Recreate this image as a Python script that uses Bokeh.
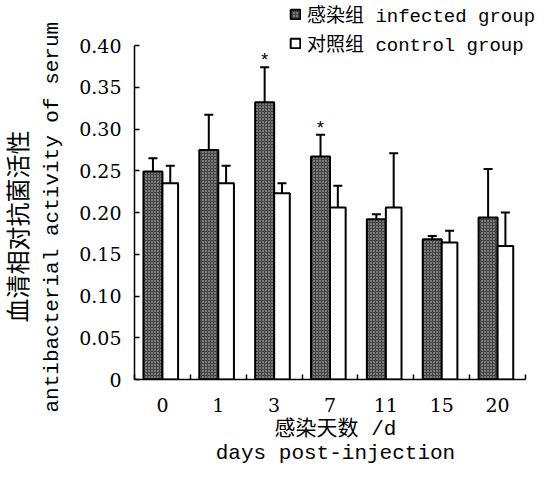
import numpy as np
from bokeh.plotting import figure
from bokeh.models import (Range1d, FixedTicker, Whisker, TeeHead, ColumnDataSource,
                          Legend, LegendItem, Title)
from bokeh.core.properties import value
from bokeh.embed import file_html
from bokeh.resources import INLINE

# ---- data ----
days = ["0", "1", "3", "7", "11", "15", "20"]
infected = [0.249, 0.275, 0.332, 0.267, 0.192, 0.168, 0.194]
infected_err = [0.016, 0.042, 0.042, 0.026, 0.006, 0.004, 0.058]
control = [0.235, 0.235, 0.223, 0.206, 0.206, 0.164, 0.160]
control_err = [0.021, 0.021, 0.012, 0.026, 0.065, 0.014, 0.040]
significant_days = ["3", "7"]
y_ticks = [0, 0.05, 0.10, 0.15, 0.20, 0.25, 0.30, 0.35, 0.40]
y_tick_labels = ["0", "0.05", "0.10", "0.15", "0.20", "0.25", "0.30", "0.35", "0.40"]
series_labels = ["感染组 infected group", "对照组 control group"]
x_title = "感染天数 /d\ndays post-injection"
y_title_cn = "血清相对抗菌活性"
y_title_en = "antibacterial activity of serum"

MONO = "Liberation Mono, Noto Sans CJK SC"

idx = np.arange(len(days))
inf_w, ctl_w = 0.34, 0.28
inf_x = idx - inf_w / 2
ctl_x = idx + ctl_w / 2

src_inf = ColumnDataSource(dict(x=inf_x, top=infected,
                                hi=np.array(infected) + np.array(infected_err)))
src_ctl = ColumnDataSource(dict(x=ctl_x, top=control,
                                hi=np.array(control) + np.array(control_err)))

W, H = 548, 475
AX_LEFT, AX_RIGHT = 133, 525         # pixel columns of the x-axis ends
AX_TOP, AX_BOTTOM = 45, 379          # pixel rows of 0.40 and 0
FRAME_RIGHT = 536                    # frame widened so the legend text fits
x_lo, x_hi = -0.5, len(days) - 0.5
y_max = y_ticks[-1]
# the frame is stretched to the top edge so the legend fits inside it
y_end = y_max * AX_BOTTOM / (AX_BOTTOM - AX_TOP)
x_end = x_hi + (FRAME_RIGHT - AX_RIGHT) * (x_hi - x_lo) / (AX_RIGHT - AX_LEFT)

p = figure(width=W, height=H, output_backend="svg", toolbar_location=None,
           x_range=Range1d(x_lo, x_end), y_range=Range1d(0, y_end),
           min_border_left=AX_LEFT, min_border_right=W - FRAME_RIGHT,
           min_border_top=0, min_border_bottom=H - AX_BOTTOM)
p.outline_line_color = None
p.xgrid.visible = False
p.ygrid.visible = False
p.background_fill_color = "white"
p.border_fill_color = "white"

r_inf = p.vbar(x="x", top="top", width=inf_w, bottom=0, source=src_inf,
               fill_color="#454545", line_color="black", line_width=2,
               hatch_pattern="dot", hatch_color="white", hatch_scale=3,
               hatch_weight=1, hatch_alpha=0.7)
r_ctl = p.vbar(x="x", top="top", width=ctl_w, bottom=0, source=src_ctl,
               fill_color="white", line_color="black", line_width=2)

for src in (src_inf, src_ctl):
    w = Whisker(base="x", lower="top", upper="hi", source=src,
                line_color="black", line_width=2,
                upper_head=TeeHead(size=9, line_width=2, line_color="black"),
                lower_head=None)
    p.add_layout(w)

sig_i = [days.index(d) for d in significant_days]
p.text(x=[inf_x[i] for i in sig_i],
       y=[infected[i] + infected_err[i] for i in sig_i],
       text=["*"] * len(sig_i), text_align="center", text_baseline="middle",
       y_offset=-6, text_font=value("Liberation Mono"), text_font_size="18px",
       text_color="black")

# axes
xa = p.xaxis[0]
xa.bounds = (x_lo, x_hi)
xa.ticker = FixedTicker(ticks=list(idx), minor_ticks=list(np.arange(x_lo, x_hi + 0.5, 1.0)))
xa.major_label_overrides = {int(i): d for i, d in zip(idx, days)}
xa.major_tick_line_color = None
xa.minor_tick_in = 5
xa.minor_tick_out = 0
xa.minor_tick_line_width = 1.5
xa.minor_tick_line_color = "black"
xa.axis_line_width = 1.5
xa.axis_line_color = "black"
xa.major_label_text_font = "DejaVu Serif"
xa.major_label_text_font_size = "19px"
xa.major_label_text_color = "black"
xa.major_label_standoff = 12
xa.axis_label = x_title
xa.axis_label_text_font = MONO
xa.axis_label_text_font_size = "21px"
xa.axis_label_text_font_style = "normal"
xa.axis_label_text_color = "black"
xa.axis_label_text_line_height = 1.05
xa.axis_label_standoff = 3

ya = p.yaxis[0]
ya.ticker = FixedTicker(ticks=y_ticks)
ya.bounds = (0, y_max)
ya.major_label_overrides = {t: l for t, l in zip(y_ticks, y_tick_labels)}
ya.major_tick_in = 5
ya.major_tick_out = 0
ya.major_tick_line_width = 1.5
ya.minor_tick_line_color = None
ya.axis_line_width = 1.5
ya.axis_line_color = "black"
ya.major_label_text_font = "DejaVu Serif"
ya.major_label_text_font_size = "19px"
ya.major_label_text_color = "black"
ya.major_label_standoff = 13

# y-axis titles (two lines, each placed along the 0..0.40 axis)
t_en = Title(text=y_title_en, align="left", vertical_align="top", offset=-33,
             standoff=22, text_font="Liberation Mono", text_font_size="21px",
             text_font_style="normal", text_color="black")
p.add_layout(t_en, "left")
t_cn = Title(text=y_title_cn, align="left", vertical_align="bottom", offset=57,
             standoff=-8, text_font="Noto Sans CJK SC", text_font_size="24px",
             text_font_style="normal", text_color="black")
p.add_layout(t_cn, "left")

legend = Legend(items=[LegendItem(label=series_labels[0], renderers=[r_inf]),
                       LegendItem(label=series_labels[1], renderers=[r_ctl])],
                location=(155, 322), orientation="vertical",
                label_text_font=MONO, label_text_font_size="19px",
                label_text_color="black", label_standoff=6,
                glyph_width=12, glyph_height=12, label_height=20, spacing=1,
                padding=0, margin=0, border_line_color=None,
                background_fill_alpha=0)
p.add_layout(legend)

open("out.html", "w").write(file_html(p, INLINE))
